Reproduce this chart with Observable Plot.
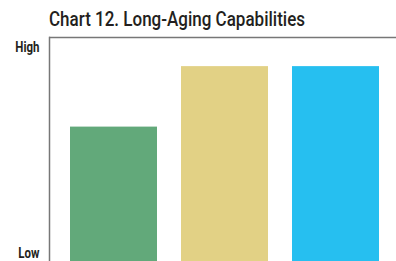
<!DOCTYPE html>
<html>
<head>
<meta charset="utf-8">
<script src="https://cdn.jsdelivr.net/npm/d3@7"></script>
<script src="https://cdn.jsdelivr.net/npm/@observablehq/plot@0.6"></script>
<style>
  html, body { margin: 0; padding: 0; background: #fff; }
  #wrap { position: relative; width: 396px; height: 261px; overflow: hidden; }
  #title { position: absolute; left: 49px; top: 1px; height: 36px; line-height: 36px;
    font-family: Roboto, sans-serif; font-weight: 500;
    font-size: 21px; color: #231f20; white-space: nowrap; transform-origin: 0 50%; }
  #chart { position: absolute; left: 0; top: 36px; }
</style>
</head>
<body>
<div id="wrap">
  <div id="title">Chart 12. Long-Aging Capabilities</div>
  <div id="chart"></div>
</div>
<script>
const categories = ["A", "B", "C"];
const values = [60, 87, 87];
const colors = ["#62A97A", "#E2D185", "#26BFF0"];
const tickLabels = ["Low", "High"];
const tickValues = [0, 100];

const data = categories.map((c, i) => ({category: c, value: values[i]}));
const labelFont = { fontFamily: "Roboto, sans-serif", fontSize: 14, fontWeight: "bold" };

const chart = Plot.plot({
  width: 396,
  height: 225,
  marginLeft: 49,
  marginRight: 0,
  marginTop: 1,
  marginBottom: 0,
  x: { domain: categories, range: [49, 401], paddingInner: 0.2143, paddingOuter: 0.1786, axis: null },
  y: { domain: [0, 100], axis: null },
  color: { domain: categories, range: colors },
  marks: [
    Plot.barY(data, { x: "category", y: "value", fill: "category" }),
    Plot.ruleY([100], { stroke: "#777", strokeWidth: 1.5 }),
    Plot.frame({ anchor: "left", stroke: "#777", strokeWidth: 1.5 }),
    Plot.axisY([tickValues[1]], { label: null, tickFormat: () => tickLabels[1], tickSize: 0, tickPadding: 10, dy: 10, fill: "#231f20", ...labelFont }),
    Plot.axisY([tickValues[0]], { label: null, tickFormat: () => tickLabels[0], tickSize: 0, tickPadding: 10, dy: -8, fill: "#231f20", ...labelFont })
  ]
});
chart.style.fontFamily = labelFont.fontFamily;
document.getElementById("chart").appendChild(chart);

// condense text horizontally (reference uses a condensed face)
const title = document.getElementById("title");
const tw = title.getBoundingClientRect().width;
title.style.transform = `scaleX(${256 / tw})`;
d3.select(chart).selectAll("g[aria-label='y-axis tick label'] text").each(function () {
  const len = this.getComputedTextLength();
  this.setAttribute("textLength", len * 0.82);
  this.setAttribute("lengthAdjust", "spacingAndGlyphs");
});
</script>
</body>
</html>
